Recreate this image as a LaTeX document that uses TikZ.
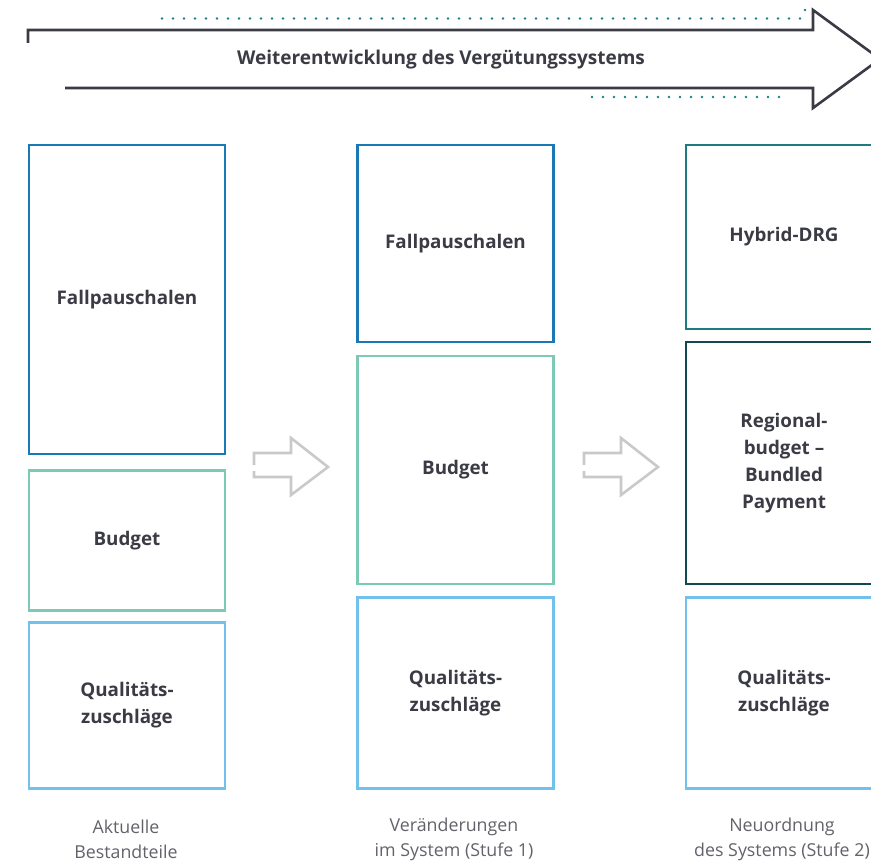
\documentclass[tikz,border=0pt]{standalone}
\usepackage{fontspec}
\setmainfont{Open Sans}
\usepackage{xcolor}

\definecolor{fpblue}{HTML}{1A78B4}
\definecolor{budgetgreen}{HTML}{7CC9B6}
\definecolor{qzblue}{HTML}{72C0EC}
\definecolor{hybridteal}{HTML}{1E7B82}
\definecolor{regionteal}{HTML}{0F4A53}
\definecolor{arrowgray}{HTML}{C9C9C9}
\definecolor{textdark}{HTML}{3B3B45}
\definecolor{dotteal}{HTML}{1B8089}

\tikzset{
  box/.style={draw=#1,line width=2.6pt,minimum width=196pt,inner sep=0pt,
    align=center,text=textdark,font=\bfseries\fontsize{18.8}{27}\selectfont},
  caption/.style={align=center,text=textdark!80,font=\fontsize{17.8}{25}\selectfont},
  grayarrow/.style={draw=arrowgray,line width=2.6pt},
  dots/.style={dotteal,line width=2.8pt,line cap=round,dash pattern=on 0pt off 11pt}
}

\begin{document}
\begin{tikzpicture}[x=1pt,y=-1pt]
\useasboundingbox (0,0) rectangle (871,861);
% big arrow on top
\draw[textdark,line width=2.6pt] (28,43) -- (28,30) -- (813,30) -- (813,10) -- (880,59) -- (813,108) -- (813,88) -- (65,88);
\node[text=textdark,font=\bfseries\fontsize{19}{22}\selectfont] (title) at (441,60) {Weiterentwicklung des Vergütungssystems};
\draw[dots] (162,18.5) -- (805,18.5);
\fill[dotteal] (805,10) circle (1.4);
\draw[dots] (592,97) -- (785,97);

% column 1
\node[box=fpblue,minimum height=309pt] (fp1) at (127,299.5) {Fallpauschalen};
\node[box=budgetgreen,minimum height=139.5pt] (bud1) at (127,540.5) {Budget};
\node[box=qzblue,minimum height=165.5pt] (qz1) at (127,705.5) {Qualitäts-\\zuschläge};
\node[caption] (cap1) at (126,839) {Aktuelle\\Bestandteile};

% column 2
\node[box=fpblue,minimum height=197pt] (fp2) at (455.5,243.5) {Fallpauschalen};
\node[box=budgetgreen,minimum height=228pt] (bud2) at (455.5,470) {Budget};
\node[box=qzblue,minimum height=190.5pt] (qz2) at (455.5,693) {Qualitäts-\\zuschläge};
\node[caption] (cap2) at (454,839) {Veränderungen\\im System (Stufe 1)};

% column 3
\node[box=hybridteal,minimum height=184pt] (hyb3) at (784,237) {Hybrid-DRG};
\node[box=regionteal,minimum height=242pt] (reg3) at (784,463) {Regional-\\budget –\\Bundled\\Payment};
\node[box=qzblue,minimum height=190.5pt] (qz3) at (784,693) {Qualitäts-\\zuschläge};
\node[caption] (cap3) at (782,839) {Neuordnung\\des Systems (Stufe 2)};

% gray arrows between columns
\draw[grayarrow] (254,465) -- (254,453) -- (291,453) -- (291,438) -- (328,467) -- (291,495) -- (291,477) -- (254,477) -- (254,471);
\draw[grayarrow] (584,465) -- (584,453) -- (621,453) -- (621,438) -- (658,467) -- (621,495) -- (621,477) -- (584,477) -- (584,471);
\end{tikzpicture}
\end{document}
